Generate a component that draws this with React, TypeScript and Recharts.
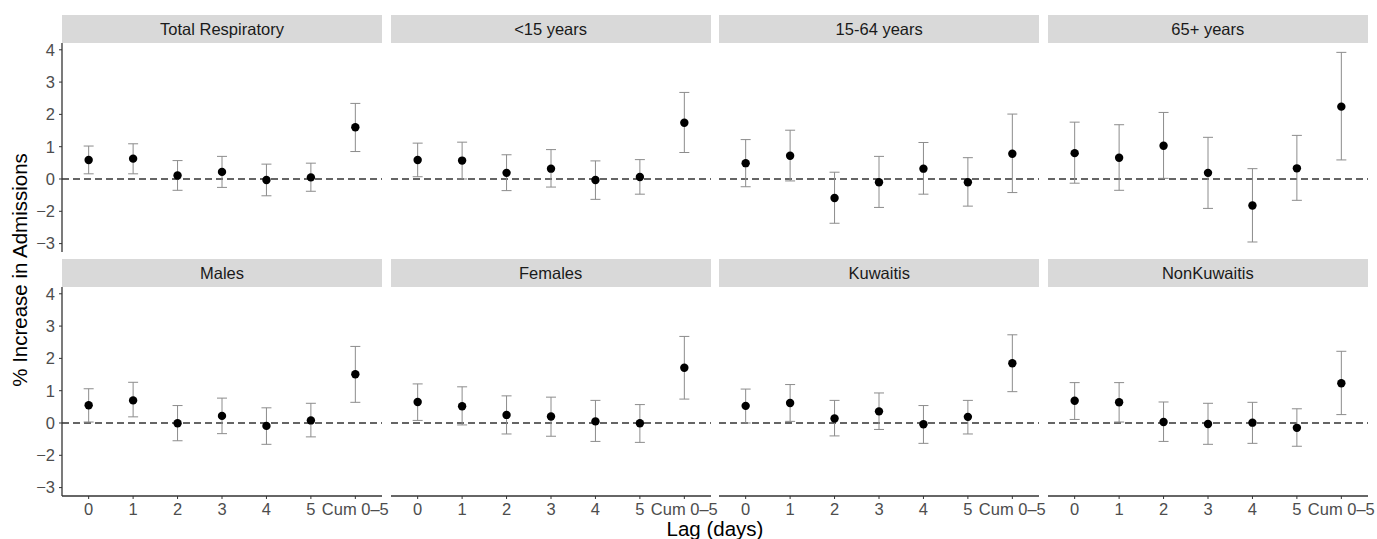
import { ScatterChart, Scatter, XAxis, YAxis, ReferenceLine, ErrorBar } from 'recharts';

const LAG_LABELS = ['0', '1', '2', '3', '4', '5', 'Cum 0–5'];
const LAG_TICKS = [0, 1, 2, 3, 4, 5, 6];

// tick labels as printed in the original figure (equal spacing)
const Y_TICKS = [-2, -1, 0, 1, 2, 3, 4];
const Y_TICK_LABELS = ['−3', '−2', '0', '1', '2', '3', '4'];

const PANEL_TITLES = ['Total Respiratory', '<15 years', '15-64 years', '65+ years', 'Males', 'Females', 'Kuwaitis', 'NonKuwaitis'];

const TOTAL_EST = [0.59, 0.63, 0.11, 0.22, -0.03, 0.05, 1.6];
const TOTAL_LO = [0.16, 0.16, -0.35, -0.26, -0.52, -0.38, 0.85];
const TOTAL_HI = [1.02, 1.09, 0.57, 0.7, 0.46, 0.49, 2.34];

const U15_EST = [0.59, 0.57, 0.19, 0.32, -0.03, 0.06, 1.74];
const U15_LO = [0.07, 0.0, -0.36, -0.25, -0.63, -0.47, 0.82];
const U15_HI = [1.11, 1.14, 0.75, 0.91, 0.56, 0.6, 2.68];

const A1564_EST = [0.49, 0.72, -0.59, -0.1, 0.32, -0.1, 0.78];
const A1564_LO = [-0.24, -0.06, -1.37, -0.88, -0.47, -0.84, -0.42];
const A1564_HI = [1.22, 1.51, 0.21, 0.7, 1.13, 0.66, 2.01];

const A65_EST = [0.8, 0.66, 1.03, 0.19, -0.82, 0.33, 2.24];
const A65_LO = [-0.13, -0.35, 0.02, -0.91, -1.95, -0.66, 0.59];
const A65_HI = [1.76, 1.68, 2.06, 1.29, 0.32, 1.35, 3.92];

const MALE_EST = [0.55, 0.7, -0.01, 0.22, -0.09, 0.08, 1.51];
const MALE_LO = [0.03, 0.19, -0.55, -0.33, -0.66, -0.43, 0.64];
const MALE_HI = [1.06, 1.26, 0.54, 0.77, 0.47, 0.61, 2.37];

const FEMALE_EST = [0.65, 0.52, 0.25, 0.2, 0.05, -0.01, 1.71];
const FEMALE_LO = [0.08, -0.06, -0.34, -0.41, -0.57, -0.6, 0.74];
const FEMALE_HI = [1.21, 1.12, 0.84, 0.8, 0.7, 0.57, 2.68];

const KUW_EST = [0.53, 0.62, 0.14, 0.36, -0.04, 0.19, 1.85];
const KUW_LO = [0.0, 0.05, -0.4, -0.2, -0.63, -0.34, 0.97];
const KUW_HI = [1.05, 1.19, 0.7, 0.93, 0.54, 0.7, 2.73];

const NONKUW_EST = [0.69, 0.64, 0.03, -0.03, 0.01, -0.15, 1.23];
const NONKUW_LO = [0.11, 0.03, -0.57, -0.66, -0.63, -0.72, 0.26];
const NONKUW_HI = [1.25, 1.25, 0.65, 0.61, 0.64, 0.44, 2.22];

const SERIES = [
  [TOTAL_EST, TOTAL_LO, TOTAL_HI],
  [U15_EST, U15_LO, U15_HI],
  [A1564_EST, A1564_LO, A1564_HI],
  [A65_EST, A65_LO, A65_HI],
  [MALE_EST, MALE_LO, MALE_HI],
  [FEMALE_EST, FEMALE_LO, FEMALE_HI],
  [KUW_EST, KUW_LO, KUW_HI],
  [NONKUW_EST, NONKUW_LO, NONKUW_HI],
];

const FONT = "'Liberation Sans', Arial, Helvetica, sans-serif";
const PANEL_W = 320;
const PANEL_H = 209;
const PANEL_STEP = 328.6;
const LEFT0 = 62;
const ROW_TOP = [43, 287];
const STRIP_H = 28;
const Y_AXIS_W = 62;
const X_AXIS_H = 40;
const RIGHT_PAD = 10;
const TOP_PAD = 10;

const tickStyle = { fontSize: 16.5, fill: '#4d4d4d', fontFamily: FONT };

function Dot(props: any) {
  return <circle cx={props.cx} cy={props.cy} r={4.2} fill="#000" />;
}

function Panel({ index }: { index: number }) {
  const row = Math.floor(index / 4);
  const col = index % 4;
  const [est, lo, hi] = SERIES[index];
  const data = est.map((v, i) => ({ x: LAG_TICKS[i], y: v, err: [v - lo[i], hi[i] - v] }));
  const showY = col === 0;
  const showX = row === 1;
  const left = LEFT0 + col * PANEL_STEP - (showY ? Y_AXIS_W : 0);
  const width = PANEL_W + (showY ? Y_AXIS_W : 0) + RIGHT_PAD;
  const height = PANEL_H + TOP_PAD + (showX ? X_AXIS_H : 0);

  return (
    <>
      <div style={{ position: 'absolute', left, top: ROW_TOP[row] - TOP_PAD }}>
        <ScatterChart width={width} height={height} margin={{ top: TOP_PAD, right: RIGHT_PAD, bottom: 0, left: 0 }}>
          <XAxis
            type="number"
            dataKey="x"
            domain={[-0.6, 6.6]}
            ticks={LAG_TICKS}
            interval={0}
            allowDataOverflow
            tickFormatter={(v: number) => LAG_LABELS[v]}
            hide={!showX}
            height={X_AXIS_H}
            axisLine={{ stroke: '#333', strokeWidth: 1.3 }}
            tickLine={{ stroke: '#333' }}
            tickSize={3}
            tickMargin={4}
            tick={tickStyle}
          />
          <YAxis
            type="number"
            dataKey="y"
            domain={[-2.26, 4.21]}
            ticks={Y_TICKS}
            interval={0}
            allowDataOverflow
            tickFormatter={(v: number) => Y_TICK_LABELS[Y_TICKS.indexOf(v)]}
            hide={!showY}
            width={Y_AXIS_W}
            axisLine={{ stroke: '#333', strokeWidth: 1.3 }}
            tickLine={{ stroke: '#333' }}
            tickSize={3}
            tickMargin={4}
            tick={tickStyle}
          />
          <ReferenceLine y={0} stroke="#333" strokeWidth={1.4} strokeDasharray="7 4" />
          <Scatter data={data} shape={<Dot />} isAnimationActive={false}>
            <ErrorBar dataKey="err" direction="y" width={5} stroke="#8c8c8c" strokeWidth={1} isAnimationActive={false} />
          </Scatter>
        </ScatterChart>
      </div>
      <div
        style={{
          position: 'absolute',
          left: LEFT0 + col * PANEL_STEP,
          top: ROW_TOP[row] - STRIP_H,
          width: PANEL_W,
          height: STRIP_H,
          background: '#d9d9d9',
          color: '#1a1a1a',
          fontFamily: FONT,
          fontSize: 16.5,
          lineHeight: `${STRIP_H}px`,
          textAlign: 'center',
        }}
      >
        {PANEL_TITLES[index]}
      </div>
    </>
  );
}

export default function App() {
  return (
    <div style={{ position: 'absolute', left: 0, top: 0, width: 1377, height: 539, background: '#fff', overflow: 'hidden' }}>
      {PANEL_TITLES.map((_, i) => (
        <Panel key={i} index={i} />
      ))}
      <div
        style={{
          position: 'absolute',
          left: 20,
          top: 269.5,
          transform: 'translate(-50%, -50%) rotate(-90deg)',
          whiteSpace: 'nowrap',
          fontFamily: FONT,
          fontSize: 20.5,
          color: '#000',
        }}
      >
        % Increase in Admissions
      </div>
      <div
        style={{
          position: 'absolute',
          left: 715,
          top: 529,
          transform: 'translate(-50%, -50%)',
          whiteSpace: 'nowrap',
          fontFamily: FONT,
          fontSize: 20.5,
          color: '#000',
        }}
      >
        Lag (days)
      </div>
    </div>
  );
}
